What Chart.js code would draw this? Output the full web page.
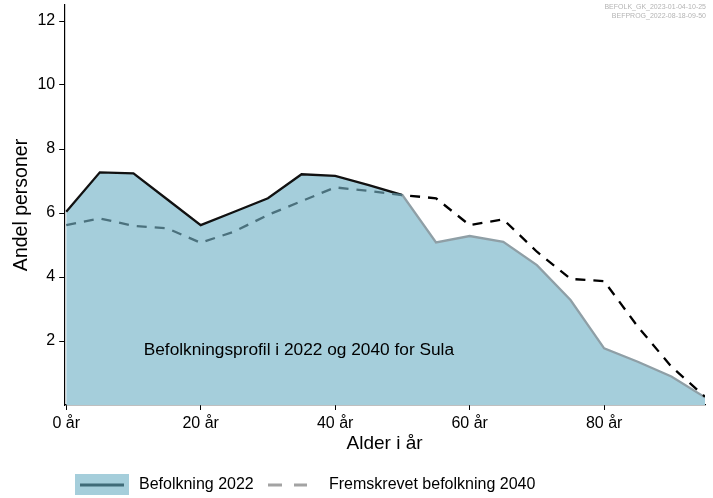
<!DOCTYPE html>
<html>
<head>
<meta charset="utf-8">
<script src="https://cdn.jsdelivr.net/npm/chart.js@4/dist/chart.umd.min.js"></script>
<style>
  html, body { margin: 0; padding: 0; background: #fff; }
  #wrap { width: 713px; height: 498px; position: relative; }
</style>
</head>
<body>
<div id="wrap"><canvas id="chartProfil" width="713" height="498"></canvas></div>
<script>
// aldersgrupper (5-års intervaller)
const ages = [0, 5, 10, 15, 20, 25, 30, 35, 40, 45, 50, 55, 60, 65, 70, 75, 80, 85, 90, 95];
const pop2022 = [6.04, 7.27, 7.24, 6.43, 5.62, 6.04, 6.46, 7.21, 7.16, 6.87, 6.56, 5.08, 5.28, 5.10, 4.37, 3.28, 1.77, 1.35, 0.89, 0.24];
const pop2040 = [5.62, 5.83, 5.60, 5.52, 5.07, 5.42, 5.94, 6.37, 6.80, 6.69, 6.56, 6.46, 5.62, 5.80, 4.79, 3.94, 3.87, 2.45, 1.20, 0.26];
const xTicks = [0, 20, 40, 60, 80];
const yTicks = [2, 4, 6, 8, 10, 12];
const legendLabels = ["Befolkning 2022", "Fremskrevet befolkning 2040"];
const noteText = "Befolkningsprofil i 2022 og 2040 for Sula";
const stampLines = ["BEFOLK_GK_2023-01-04-10-25", "BEFPROG_2022-08-18-09-50"];

const FONT = "'Liberation Sans', Arial, sans-serif";

// under år 50 ligger 2040-linjen inni flaten
const crossIdx = 10;

// hard fargeskifte ved krysningen, uten å dele opp fyllet
function splitColor(left, right) {
  return c => {
    const chart = c.chart, ca = chart.chartArea;
    if (!ca || !chart.scales.x) return left;
    const xp = chart.scales.x.getPixelForValue(ages[crossIdx]);
    const f = Math.min(1, Math.max(0, (xp - ca.left) / (ca.right - ca.left)));
    const g = chart.ctx.createLinearGradient(ca.left, 0, ca.right, 0);
    g.addColorStop(0, left);
    g.addColorStop(f, left);
    g.addColorStop(f, right);
    g.addColorStop(1, right);
    return g;
  };
}

const extras = {
  id: 'extras',
  afterDraw(chart) {
    const ctx = chart.ctx;
    const xs = chart.scales.x, ys = chart.scales.y;
    ctx.save();
    // stempel oppe til høyre
    ctx.fillStyle = '#b4b4b4';
    ctx.font = '7px ' + FONT;
    ctx.textAlign = 'right';
    ctx.textBaseline = 'middle';
    ctx.fillText(stampLines[0], 706, 7);
    ctx.fillText(stampLines[1], 706, 16);

    // notat i plottet
    ctx.fillStyle = '#000';
    ctx.font = '17.3px ' + FONT;
    ctx.textAlign = 'center';
    ctx.fillText(noteText, xs.getPixelForValue(34.6), ys.getPixelForValue(1.72));

    // tegnforklaring
    const ly = 485;
    ctx.fillStyle = '#a5cedb';
    ctx.fillRect(75, 474, 54, 21);
    ctx.strokeStyle = '#3f6b78';
    ctx.lineWidth = 3;
    ctx.beginPath(); ctx.moveTo(80, ly); ctx.lineTo(124, ly); ctx.stroke();
    ctx.fillStyle = '#000';
    ctx.textAlign = 'left';
    ctx.font = '16px ' + FONT;
    ctx.fillText(legendLabels[0], 139, ly);

    ctx.strokeStyle = '#a3a3a3';
    ctx.setLineDash([14, 12]);
    ctx.beginPath(); ctx.moveTo(268, ly); ctx.lineTo(307, ly); ctx.stroke();
    ctx.setLineDash([]);
    ctx.fillText(legendLabels[1], 329, ly);
    ctx.restore();
  }
};

new Chart("chartProfil", {
  type: "line",
  data: {
    datasets: [
      {
        label: legendLabels[1],
        data: ages.map((a, i) => ({ x: a, y: pop2040[i] })),
        borderColor: splitColor('#4b717d', '#000'),
        borderWidth: 2.3,
        borderDash: [10, 8],
        pointRadius: 0,
        fill: false,
        order: 1
      },
      {
        label: legendLabels[0],
        data: ages.map((a, i) => ({ x: a, y: pop2022[i] })),
        borderColor: splitColor('#111', '#8f9fa6'),
        backgroundColor: '#a5cedb',
        borderWidth: 2.3,
        pointRadius: 0,
        fill: 'origin',
        order: 2
      }
    ]
  },
  options: {
    responsive: false,
    animation: false,
    layout: { padding: { left: 10, top: 5, right: 8, bottom: 43 } },
    plugins: {
      legend: { display: false },
      tooltip: { enabled: false }
    },
    scales: {
      x: {
        type: 'linear',
        min: -0.3,
        max: 95,
        afterBuildTicks: s => { s.ticks = xTicks.map(v => ({ value: v })); },
        ticks: {
          color: '#000',
          font: { family: FONT, size: 16 },
          padding: 4,
          callback: v => v + ' år'
        },
        grid: { drawOnChartArea: false, drawTicks: true, tickLength: 5, color: '#000' },
        border: { display: true, color: '#000', width: 1.2 },
        title: {
          display: true,
          text: 'Alder i år',
          color: '#000',
          font: { family: FONT, size: 19 },
          padding: { top: -5, bottom: 0 }
        }
      },
      y: {
        min: 0,
        max: 12.5,
        afterBuildTicks: s => { s.ticks = yTicks.map(v => ({ value: v })); },
        afterFit: s => { s.paddingTop = 0; },
        ticks: {
          color: '#000',
          font: { family: FONT, size: 16 },
          padding: 4
        },
        grid: { drawOnChartArea: false, drawTicks: true, tickLength: 5, color: '#000' },
        border: { display: true, color: '#000', width: 1.2 },
        title: {
          display: true,
          text: 'Andel personer',
          color: '#000',
          font: { family: FONT, size: 19.5 },
          padding: { top: 0, bottom: 0 }
        }
      }
    }
  },
  plugins: [extras]
});
</script>
</body>
</html>
